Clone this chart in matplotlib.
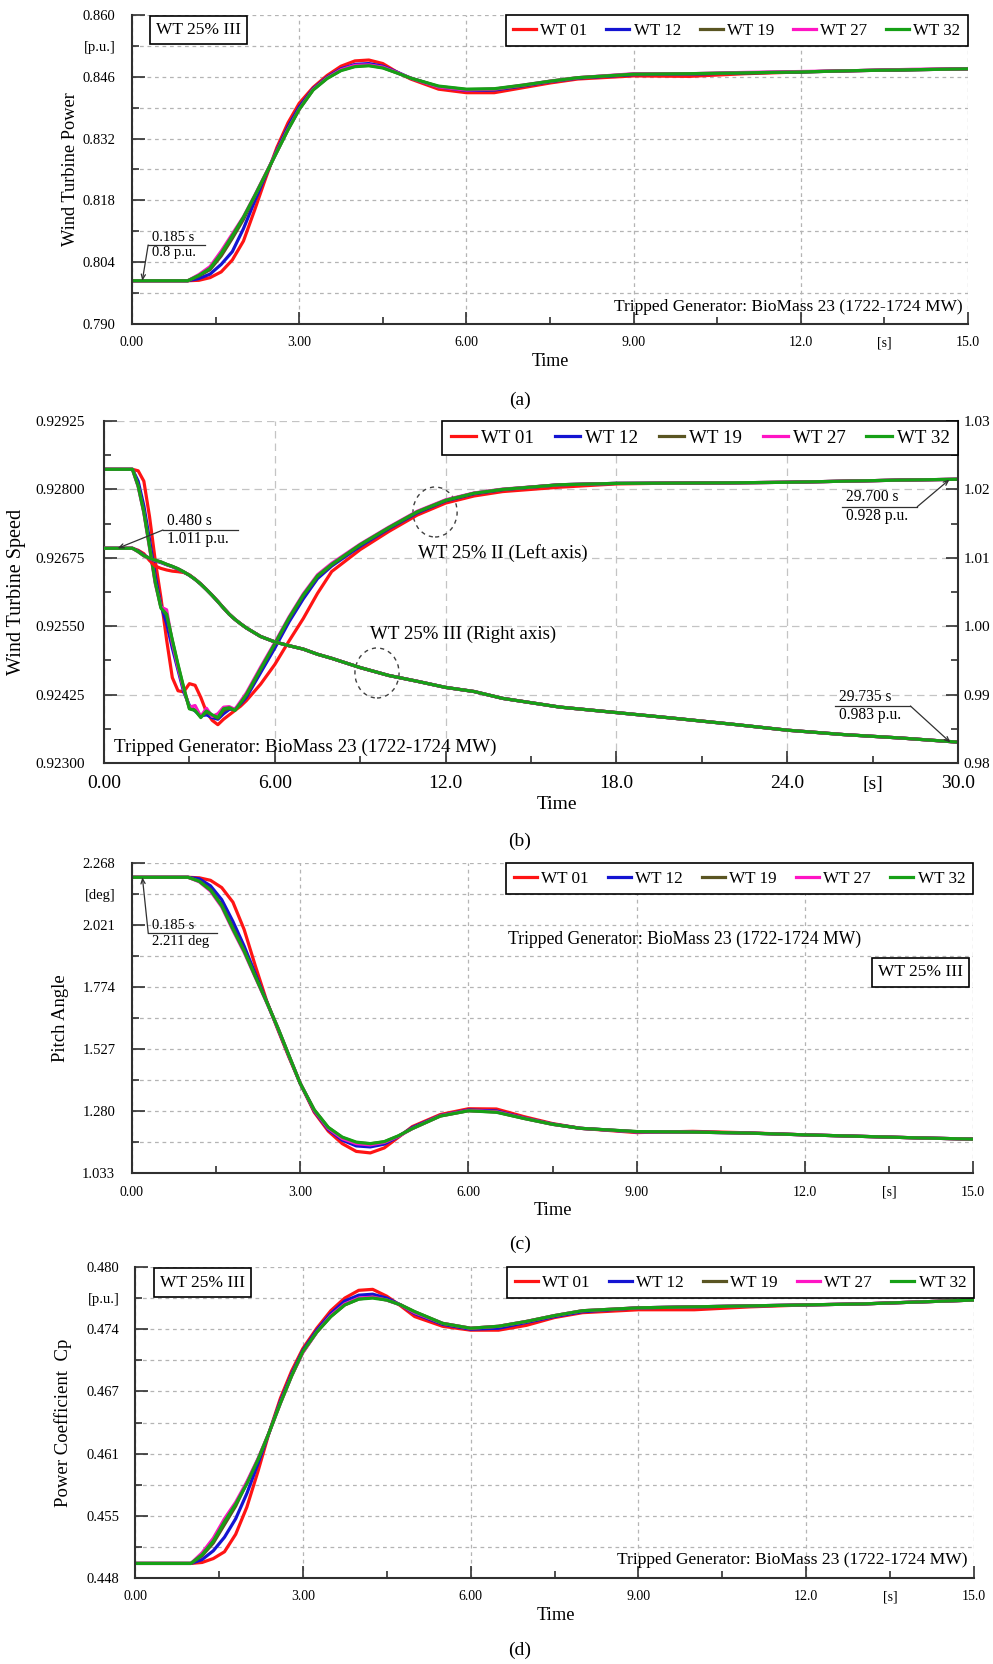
import numpy as np
import matplotlib.pyplot as plt
from matplotlib.patches import Ellipse

plt.rcParams['font.family'] = ['Liberation Serif', 'DejaVu Serif']

# ---------------- data ----------------
turbines = ['WT 01', 'WT 12', 'WT 19', 'WT 27', 'WT 32']
colors = ['#ff1414', '#1414d2', '#5a5522', '#ff14c4', '#16a016']

# common time base for the 15 s panels (a), (c), (d)
t15 = [0, 1.0, 1.2, 1.4, 1.6, 1.8, 2.0, 2.2, 2.4, 2.6, 2.8, 3.0, 3.25, 3.5, 3.75, 4.0,
       4.25, 4.5, 4.75, 5.0, 5.5, 6.0, 6.5, 7.0, 7.5, 8.0, 9.0, 10.0, 11.0, 12.0, 13.0, 14.0, 15.0]

# (a) wind turbine power [p.u.]
power_wt01 = [0.7998, 0.7998, 0.7999, 0.8005, 0.8018, 0.8045, 0.8088, 0.8158, 0.8231, 0.8300, 0.8356,
              0.8400, 0.8436, 0.8463, 0.8484, 0.8496, 0.8498, 0.8490, 0.8471, 0.8455, 0.8432, 0.8424,
              0.8424, 0.8435, 0.8446, 0.8455, 0.8462, 0.8461, 0.8467, 0.8471, 0.8474, 0.8476, 0.8478]
power_wt12 = [0.7998, 0.7998, 0.8003, 0.8013, 0.8035, 0.8064, 0.8116, 0.8178, 0.8237, 0.8294, 0.8347,
              0.8392, 0.8433, 0.8459, 0.8478, 0.8488, 0.8490, 0.8484, 0.8471, 0.8457, 0.8437, 0.8429,
              0.8430, 0.8439, 0.8449, 0.8457, 0.8465, 0.8466, 0.8469, 0.8471, 0.8474, 0.8476, 0.8478]
power_wt19 = [0.7998, 0.7998, 0.8009, 0.8023, 0.8054, 0.8094, 0.8137, 0.8188, 0.8239, 0.8290, 0.8341,
              0.8387, 0.8431, 0.8457, 0.8475, 0.8484, 0.8486, 0.8481, 0.8469, 0.8457, 0.8438, 0.8431,
              0.8432, 0.8440, 0.8450, 0.8458, 0.8466, 0.8467, 0.8469, 0.8471, 0.8474, 0.8476, 0.8478]
power_wt27 = [0.7998, 0.7998, 0.8012, 0.8030, 0.8065, 0.8104, 0.8143, 0.8191, 0.8241, 0.8291, 0.8341,
              0.8386, 0.8431, 0.8457, 0.8476, 0.8486, 0.8487, 0.8482, 0.8470, 0.8457, 0.8437, 0.8430,
              0.8432, 0.8441, 0.8450, 0.8458, 0.8467, 0.8467, 0.8470, 0.8472, 0.8474, 0.8477, 0.8478]
power_wt32 = [0.7998, 0.7998, 0.8010, 0.8026, 0.8060, 0.8100, 0.8142, 0.8190, 0.8240, 0.8290, 0.8340,
              0.8386, 0.8430, 0.8456, 0.8474, 0.8483, 0.8485, 0.8480, 0.8469, 0.8457, 0.8439, 0.8432,
              0.8433, 0.8441, 0.8450, 0.8458, 0.8466, 0.8467, 0.8469, 0.8471, 0.8474, 0.8476, 0.8478]

# (c) pitch angle [deg]
pitch_wt01 = [2.211, 2.211, 2.209, 2.199, 2.170, 2.112, 2.003, 1.858, 1.720, 1.605, 1.494, 1.390, 1.275,
              1.200, 1.150, 1.119, 1.113, 1.133, 1.175, 1.218, 1.266, 1.289, 1.288, 1.257, 1.230, 1.211,
              1.194, 1.199, 1.193, 1.185, 1.179, 1.173, 1.168]
pitch_wt12 = [2.211, 2.211, 2.205, 2.177, 2.122, 2.035, 1.937, 1.826, 1.717, 1.609, 1.498, 1.390, 1.280,
              1.207, 1.164, 1.141, 1.137, 1.148, 1.178, 1.214, 1.262, 1.284, 1.280, 1.252, 1.228, 1.211,
              1.197, 1.196, 1.192, 1.185, 1.179, 1.173, 1.168]
pitch_wt19 = [2.211, 2.211, 2.196, 2.162, 2.101, 2.010, 1.920, 1.817, 1.716, 1.612, 1.500, 1.390, 1.284,
              1.214, 1.174, 1.154, 1.149, 1.157, 1.180, 1.210, 1.260, 1.281, 1.276, 1.250, 1.227, 1.211,
              1.198, 1.196, 1.192, 1.185, 1.179, 1.173, 1.168]
pitch_wt27 = [2.211, 2.211, 2.193, 2.156, 2.093, 2.000, 1.912, 1.812, 1.713, 1.611, 1.500, 1.390, 1.283,
              1.211, 1.170, 1.150, 1.145, 1.155, 1.179, 1.210, 1.261, 1.282, 1.277, 1.251, 1.227, 1.211,
              1.197, 1.196, 1.192, 1.185, 1.179, 1.173, 1.168]
pitch_wt32 = [2.211, 2.211, 2.195, 2.160, 2.098, 2.005, 1.917, 1.815, 1.715, 1.612, 1.501, 1.390, 1.285,
              1.215, 1.176, 1.156, 1.150, 1.158, 1.181, 1.210, 1.260, 1.281, 1.275, 1.250, 1.227, 1.211,
              1.198, 1.196, 1.192, 1.185, 1.179, 1.173, 1.168]

# (d) power coefficient Cp [p.u.]
cp_wt01 = [0.4495, 0.4495, 0.4496, 0.4500, 0.4507, 0.4525, 0.4553, 0.4590, 0.4630, 0.4665, 0.4693,
           0.4716, 0.4737, 0.4755, 0.4768, 0.4776, 0.4777, 0.4770, 0.4760, 0.4749, 0.4739, 0.4735,
           0.4735, 0.4740, 0.4748, 0.4753, 0.4756, 0.4756, 0.4759, 0.4761, 0.4762, 0.4764, 0.4766]
cp_wt12 = [0.4495, 0.4495, 0.4499, 0.4508, 0.4522, 0.4541, 0.4567, 0.4598, 0.4630, 0.4662, 0.4690,
           0.4714, 0.4735, 0.4752, 0.4765, 0.4771, 0.4772, 0.4768, 0.4761, 0.4752, 0.4741, 0.4736,
           0.4737, 0.4743, 0.4749, 0.4754, 0.4758, 0.4759, 0.4760, 0.4761, 0.4762, 0.4764, 0.4766]
cp_wt19 = [0.4495, 0.4495, 0.4503, 0.4516, 0.4535, 0.4554, 0.4578, 0.4602, 0.4630, 0.4660, 0.4688,
           0.4712, 0.4733, 0.4749, 0.4761, 0.4767, 0.4769, 0.4766, 0.4761, 0.4754, 0.4742, 0.4737,
           0.4739, 0.4744, 0.4750, 0.4755, 0.4758, 0.4759, 0.4760, 0.4761, 0.4762, 0.4764, 0.4766]
cp_wt27 = [0.4495, 0.4495, 0.4506, 0.4521, 0.4541, 0.4558, 0.4579, 0.4603, 0.4630, 0.4660, 0.4688,
           0.4712, 0.4733, 0.4750, 0.4762, 0.4768, 0.4769, 0.4766, 0.4761, 0.4753, 0.4742, 0.4737,
           0.4739, 0.4744, 0.4750, 0.4755, 0.4758, 0.4759, 0.4760, 0.4761, 0.4762, 0.4764, 0.4766]
cp_wt32 = [0.4495, 0.4495, 0.4504, 0.4518, 0.4538, 0.4556, 0.4577, 0.4602, 0.4630, 0.4660, 0.4688,
           0.4713, 0.4733, 0.4749, 0.4761, 0.4767, 0.4768, 0.4766, 0.4761, 0.4754, 0.4742, 0.4737,
           0.4739, 0.4744, 0.4750, 0.4755, 0.4758, 0.4759, 0.4760, 0.4761, 0.4762, 0.4764, 0.4766]

# (b) wind turbine speed, 30 s run
t30 = [0, 1.0, 1.2, 1.4, 1.6, 1.8, 2.0, 2.2, 2.4, 2.6, 2.8, 3.0, 3.2, 3.4, 3.6, 3.8, 4.0, 4.2, 4.4,
       4.6, 4.8, 5.0, 5.5, 6.0, 6.5, 7.0, 7.5, 8.0, 9.0, 10.0, 11.0, 12.0, 13.0, 14.0, 16.0, 18.0,
       20.0, 22.0, 24.0, 26.0, 28.0, 30.0]
# WT 25% II, left axis
speed2_wt01 = [0.928367, 0.928367, 0.928340, 0.928150, 0.927500, 0.926700, 0.926020, 0.925250, 0.924560,
               0.924320, 0.924300, 0.924450, 0.924420, 0.924200, 0.923930, 0.923780, 0.923700, 0.923800,
               0.923880, 0.923960, 0.924040, 0.924140, 0.924440, 0.924800, 0.925230, 0.925640, 0.926100,
               0.926500, 0.926900, 0.927230, 0.927530, 0.927750, 0.927880, 0.927960, 0.928040, 0.928100,
               0.928115, 0.928120, 0.928130, 0.928150, 0.928170, 0.928185]
speed2_wt12 = [0.928367, 0.928367, 0.928150, 0.927700, 0.927080, 0.926420, 0.925880, 0.925550, 0.925100,
               0.924700, 0.924300, 0.924050, 0.923950, 0.923860, 0.923880, 0.923830, 0.923800, 0.923900,
               0.923980, 0.923990, 0.924080, 0.924200, 0.924650, 0.925100, 0.925580, 0.926000, 0.926370,
               0.926600, 0.926960, 0.927280, 0.927570, 0.927790, 0.927920, 0.927995, 0.928085, 0.928110,
               0.928115, 0.928120, 0.928130, 0.928150, 0.928170, 0.928185]
speed2_wt19 = [0.928367, 0.928367, 0.928070, 0.927600, 0.926970, 0.926320, 0.925850, 0.925700, 0.925230,
               0.924780, 0.924360, 0.924000, 0.923970, 0.923850, 0.923930, 0.923870, 0.923820, 0.923960,
               0.924000, 0.923970, 0.924100, 0.924240, 0.924710, 0.925170, 0.925640, 0.926060, 0.926410,
               0.926620, 0.926985, 0.927295, 0.927585, 0.927800, 0.927930, 0.928000, 0.928085, 0.928110,
               0.928115, 0.928120, 0.928130, 0.928150, 0.928170, 0.928185]
speed2_wt27 = [0.928367, 0.928367, 0.928050, 0.927570, 0.926930, 0.926280, 0.925850, 0.925800, 0.925200,
               0.924750, 0.924350, 0.924020, 0.924050, 0.923850, 0.924000, 0.923850, 0.923900, 0.924020,
               0.924030, 0.923980, 0.924130, 0.924280, 0.924750, 0.925200, 0.925670, 0.926090, 0.926440,
               0.926650, 0.927000, 0.927310, 0.927600, 0.927810, 0.927935, 0.928005, 0.928085, 0.928110,
               0.928115, 0.928120, 0.928130, 0.928150, 0.928170, 0.928185]
speed2_wt32 = [0.928367, 0.928367, 0.928060, 0.927580, 0.926950, 0.926300, 0.925830, 0.925720, 0.925250,
               0.924800, 0.924380, 0.923990, 0.923960, 0.923830, 0.923950, 0.923880, 0.923830, 0.923990,
               0.924010, 0.923960, 0.924100, 0.924250, 0.924720, 0.925180, 0.925650, 0.926070, 0.926420,
               0.926630, 0.926990, 0.927300, 0.927590, 0.927800, 0.927930, 0.928000, 0.928085, 0.928110,
               0.928115, 0.928120, 0.928130, 0.928150, 0.928170, 0.928185]
# WT 25% III, right axis
speed3_wt01 = [1.01139, 1.01139, 1.01110, 1.01060, 1.00960, 1.00880, 1.00845, 1.00822, 1.00805, 1.00797,
               1.00785, 1.00750, 1.00688, 1.00618, 1.00537, 1.00452, 1.00362, 1.00266, 1.00176, 1.00100,
               1.00035, 0.99975, 0.99850, 0.99770, 0.99715, 0.99665, 0.99590, 0.99530, 0.99395, 0.99280,
               0.99195, 0.99105, 0.99045, 0.98945, 0.98818, 0.98737, 0.98655, 0.98570, 0.98480, 0.98415,
               0.98365, 0.98305]
speed3_wt12 = [1.01139, 1.01139, 1.01100, 1.01040, 1.00990, 1.00955, 1.00930, 1.00898, 1.00870, 1.00835,
               1.00792, 1.00744, 1.00685, 1.00615, 1.00535, 1.00450, 1.00360, 1.00265, 1.00175, 1.00100,
               1.00035, 0.99975, 0.99850, 0.99770, 0.99715, 0.99665, 0.99590, 0.99530, 0.99395, 0.99280,
               0.99195, 0.99105, 0.99045, 0.98945, 0.98818, 0.98737, 0.98655, 0.98570, 0.98480, 0.98415,
               0.98365, 0.98305]
speed3_wt19 = [1.01139, 1.01139, 1.01092, 1.01032, 1.00993, 1.00963, 1.00938, 1.00903, 1.00873, 1.00838,
               1.00794, 1.00745, 1.00685, 1.00615, 1.00535, 1.00450, 1.00360, 1.00265, 1.00175, 1.00100,
               1.00035, 0.99975, 0.99850, 0.99770, 0.99715, 0.99665, 0.99590, 0.99530, 0.99395, 0.99280,
               0.99195, 0.99105, 0.99045, 0.98945, 0.98818, 0.98737, 0.98655, 0.98570, 0.98480, 0.98415,
               0.98365, 0.98305]
speed3_wt27 = [1.01139, 1.01139, 1.01088, 1.01028, 1.00992, 1.00962, 1.00937, 1.00903, 1.00873, 1.00838,
               1.00794, 1.00745, 1.00685, 1.00615, 1.00535, 1.00450, 1.00360, 1.00265, 1.00175, 1.00100,
               1.00035, 0.99975, 0.99850, 0.99770, 0.99715, 0.99665, 0.99590, 0.99530, 0.99395, 0.99280,
               0.99195, 0.99105, 0.99045, 0.98945, 0.98818, 0.98737, 0.98655, 0.98570, 0.98480, 0.98415,
               0.98365, 0.98305]
speed3_wt32 = [1.01139, 1.01139, 1.01090, 1.01030, 1.00995, 1.00965, 1.00940, 1.00905, 1.00875, 1.00840,
               1.00795, 1.00745, 1.00685, 1.00615, 1.00535, 1.00450, 1.00360, 1.00265, 1.00175, 1.00100,
               1.00035, 0.99975, 0.99850, 0.99770, 0.99715, 0.99665, 0.99590, 0.99530, 0.99395, 0.99280,
               0.99195, 0.99105, 0.99045, 0.98945, 0.98818, 0.98737, 0.98655, 0.98570, 0.98480, 0.98415,
               0.98365, 0.98305]

# axis tick labels
x15_labels = ['0.00', '3.00', '6.00', '9.00', '12.0', '15.0']
x30_labels = ['0.00', '6.00', '12.0', '18.0', '24.0', '30.0']
power_labels = ['0.790', '0.804', '0.818', '0.832', '0.846', '0.860']
pitch_labels = ['1.033', '1.280', '1.527', '1.774', '2.021', '2.268']
cp_labels = ['0.448', '0.455', '0.461', '0.467', '0.474', '0.480']
speed2_labels = ['0.92300', '0.92425', '0.92550', '0.92675', '0.92800', '0.92925']
speed3_labels = ['0.98', '0.99', '1.00', '1.01', '1.02', '1.03']

tripped = 'Tripped Generator: BioMass 23 (1722-1724 MW)'
DARK = '#303030'


# ---------------- helpers ----------------
def setup_axes(ax, xmax, xstep, xlabels, ylim, ylabels, unit, fs, xpad, ypad, dash, gridc, ygrid_minor):
    ax.set_xlim(0, xmax)
    ax.set_ylim(*ylim)
    xt = np.arange(0, xmax + 1e-9, xstep)
    ax.set_xticks(xt)
    ax.set_xticklabels(xlabels)
    xm = xt[:-1] + xstep / 2
    ax.set_xticks(xm, minor=True)
    ax.set_xticklabels([''] * (len(xm) - 1) + ['[s]'], minor=True)
    yt = np.linspace(ylim[0], ylim[1], len(ylabels))
    ax.set_yticks(yt)
    ax.set_yticklabels(ylabels)
    ym = yt[:-1] + (yt[1] - yt[0]) / 2
    ax.set_yticks(ym, minor=True)
    ax.set_yticklabels([''] * (len(ym) - 1) + [unit], minor=True)
    ax.tick_params(which='both', direction='in', color=DARK, width=1.2)
    ax.tick_params(axis='x', which='both', labelsize=fs[0], pad=xpad)
    ax.tick_params(axis='y', which='both', labelsize=fs[1], pad=ypad)
    ax.tick_params(which='major', length=9)
    ax.tick_params(which='minor', length=5)
    ax.grid(True, which='major', axis='x', ls=dash, color=gridc, lw=0.9)
    ax.grid(True, which='both' if ygrid_minor else 'major', axis='y', ls=dash, color=gridc, lw=0.9)
    ax.set_axisbelow(True)
    for s in ['top', 'right']:
        ax.spines[s].set_visible(False)
    for s in ['left', 'bottom']:
        ax.spines[s].set_color(DARK)
        ax.spines[s].set_linewidth(1.5)


def add_legend(ax, handles, fs, colsp=1.12):
    leg = ax.legend(handles, turbines, loc='upper right', ncol=5, fontsize=fs, frameon=True,
                    fancybox=False, edgecolor='black', framealpha=1, borderaxespad=0,
                    handlelength=1.35, handletextpad=0.25, columnspacing=colsp, borderpad=0.45)
    leg.get_frame().set_linewidth(1.2)
    return leg


def callout(ax, pt, knee, end, top, bottom, fs):
    ax.annotate('', xy=pt, xytext=knee,
                arrowprops=dict(arrowstyle='->,head_length=0.35,head_width=0.15', color=DARK, lw=0.9,
                                shrinkA=0, shrinkB=0))
    ax.plot([knee[0], end], [knee[1], knee[1]], color=DARK, lw=0.9)
    xs = min(knee[0], end)
    ax.annotate(top, (xs, knee[1]), xytext=(3, 1), textcoords='offset points',
                ha='left', va='bottom', fontsize=fs)
    ax.annotate(bottom, (xs, knee[1]), xytext=(3, -1), textcoords='offset points',
                ha='left', va='top', fontsize=fs)


def wt_box(ax, x, y, fs):
    ax.text(x, y, 'WT 25% III', transform=ax.transAxes, ha='center', va='center', fontsize=fs,
            bbox=dict(boxstyle='square,pad=0.35', fc='white', ec='black', lw=1.2))


fig = plt.figure(figsize=(9.93, 16.64), dpi=100)
W, H = 993.0, 1664.0


def add_axes(left, right, top, bottom):
    return fig.add_axes([left / W, 1 - bottom / H, (right - left) / W, (bottom - top) / H])


SHORT = (0, (3, 3))
LONG = (0, (6, 4))

# ---------------- (a) wind turbine power ----------------
ax = add_axes(132, 968, 15, 324)
series = [power_wt01, power_wt12, power_wt19, power_wt27, power_wt32]
hs = [ax.plot(t15, s, color=c, lw=2.3)[0] for s, c in zip(series, colors)]
setup_axes(ax, 15, 3, x15_labels, (0.790, 0.860), power_labels, '[p.u.]', (10, 10.5), 9, 12,
           SHORT, '#b4b4b4', True)
ax.set_xlabel('Time', fontsize=13)
ax.xaxis.set_label_coords(0.5, -0.094)
ax.set_ylabel('Wind Turbine Power', fontsize=13.2)
ax.yaxis.set_label_coords(-0.0634, 0.5)
add_legend(ax, hs, 12.2)
wt_box(ax, 0.080, 0.951, 12.5)
ax.text(0.994, 0.055, tripped, transform=ax.transAxes, ha='right', va='center', fontsize=12.5)
callout(ax, (0.185, power_wt32[0]), (0.29, 0.8079), 1.31, '0.185 s', '0.8 p.u.', 10.5)

# ---------------- (b) wind turbine speed ----------------
ax = add_axes(104, 958, 421, 763)
ax2 = ax.twinx()
series2 = [speed2_wt01, speed2_wt12, speed2_wt19, speed2_wt27, speed2_wt32]
series3 = [speed3_wt01, speed3_wt12, speed3_wt19, speed3_wt27, speed3_wt32]
hs = [ax.plot(t30, s, color=c, lw=2.3)[0] for s, c in zip(series2, colors)]
for s, c in zip(series3, colors):
    ax2.plot(t30, s, color=c, lw=2.3)
setup_axes(ax, 30, 6, x30_labels, (0.92300, 0.92925), speed2_labels, '', (14, 11), 9, 14,
           LONG, '#c4c4c4', False)
ax2.set_ylim(0.98, 1.03)
yt = np.linspace(0.98, 1.03, 6)
ax2.set_yticks(yt)
ax2.set_yticklabels(speed3_labels)
ax2.set_yticks(yt[:-1] + 0.005, minor=True)
ax2.tick_params(which='both', direction='in', color=DARK, width=1.2, labelsize=11, pad=4)
ax2.tick_params(which='major', length=9)
ax2.tick_params(which='minor', length=5)
for s in ['top', 'left', 'bottom']:
    ax2.spines[s].set_visible(False)
ax2.spines['right'].set_color(DARK)
ax2.spines['right'].set_linewidth(1.5)
ax.set_xlabel('Time', fontsize=14)
ax.xaxis.set_label_coords(0.530, -0.0965)
ax.set_ylabel('Wind Turbine Speed', fontsize=14.5)
ax.yaxis.set_label_coords(-0.0913, 0.5)
add_legend(ax2, hs, 13.6, colsp=1.1)
ax.text(0.0117, 0.047, tripped, transform=ax.transAxes, ha='left', va='center', fontsize=13.8)
ax.text(0.3677, 0.614, 'WT 25% II (Left axis)', transform=ax.transAxes, ha='left', va='center',
        fontsize=13.6)
ax.text(0.3115, 0.377, 'WT 25% III (Right axis)', transform=ax.transAxes, ha='left', va='center',
        fontsize=13.6)
ax.add_patch(Ellipse((11.63, 0.927587), 1.55, 0.000914, fill=False, ls=(0, (3, 3)), ec='#404040', lw=1.0))
ax.add_patch(Ellipse((9.59, 0.924645), 1.55, 0.000914, fill=False, ls=(0, (3, 3)), ec='#404040', lw=1.0))
callout(ax2, (0.48, speed3_wt32[0]), (2.07, 1.01406), 4.71, '0.480 s', '1.011 p.u.', 11.2)
callout(ax, (29.7, 0.92818), (28.57, 0.927684), 25.91, '29.700 s', '0.928 p.u.', 11.2)
callout(ax2, (29.735, 0.983), (28.33, 0.98833), 25.68, '29.735 s', '0.983 p.u.', 11.2)

# ---------------- (c) pitch angle ----------------
ax = add_axes(132, 973, 863, 1173)
series = [pitch_wt01, pitch_wt12, pitch_wt19, pitch_wt27, pitch_wt32]
hs = [ax.plot(t15, s, color=c, lw=2.3)[0] for s, c in zip(series, colors)]
setup_axes(ax, 15, 3, x15_labels, (1.033, 2.268), pitch_labels, '[deg]', (10, 10.5), 9, 12,
           SHORT, '#b4b4b4', True)
ax.set_xlabel('Time', fontsize=13.2)
ax.xaxis.set_label_coords(0.5006, -0.094)
ax.set_ylabel('Pitch Angle', fontsize=13.4)
ax.yaxis.set_label_coords(-0.0749, 0.5)
add_legend(ax, hs, 12.3)
wt_box(ax, 0.9376, 0.6468, 12.5)
ax.text(0.447, 0.755, tripped, transform=ax.transAxes, ha='left', va='center', fontsize=12.7)
callout(ax, (0.185, pitch_wt32[0]), (0.29, 1.988), 1.51, '0.185 s', '2.211 deg', 10.5)

# ---------------- (d) power coefficient ----------------
ax = add_axes(135, 974, 1267, 1578)
series = [cp_wt01, cp_wt12, cp_wt19, cp_wt27, cp_wt32]
hs = [ax.plot(t15, s, color=c, lw=2.3)[0] for s, c in zip(series, colors)]
setup_axes(ax, 15, 3, x15_labels, (0.448, 0.480), cp_labels, '[p.u.]', (10, 10.5), 9, 11,
           SHORT, '#b4b4b4', True)
ax.set_xlabel('Time', fontsize=13.2)
ax.xaxis.set_label_coords(0.502, -0.093)
ax.set_ylabel('Power Coefficient  Cp', fontsize=13.5)
ax.yaxis.set_label_coords(-0.0751, 0.5)
add_legend(ax, hs, 12.3)
wt_box(ax, 0.0805, 0.950, 12.5)
ax.text(0.9917, 0.058, tripped, transform=ax.transAxes, ha='right', va='center', fontsize=12.6)

# panel captions
for lab, y in [('(a)', 400), ('(b)', 841), ('(c)', 1244), ('(d)', 1650)]:
    fig.text(520 / W, 1 - y / H, lab, ha='center', va='center', fontsize=14)

fig.savefig('out.png', dpi=100, facecolor='white')
